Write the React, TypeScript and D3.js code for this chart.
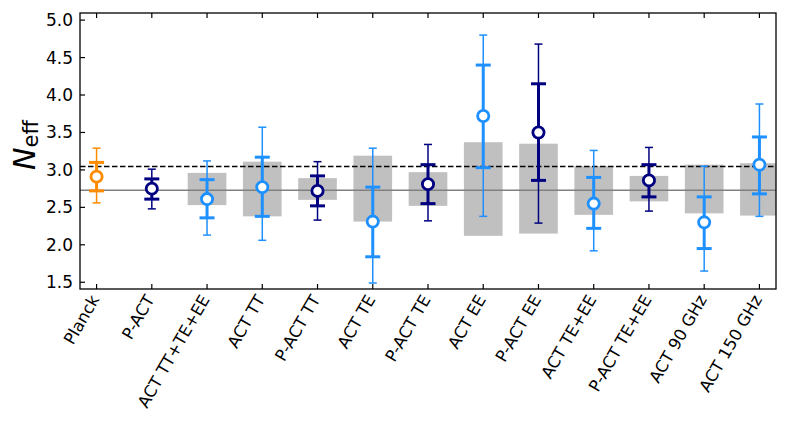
import React from "react";
import * as d3 from "d3";

const labels = [
  "Planck", "P-ACT", "ACT TT+TE+EE", "ACT TT", "P-ACT TT", "ACT TE", "P-ACT TE",
  "ACT EE", "P-ACT EE", "ACT TE+EE", "P-ACT TE+EE", "ACT 90 GHz", "ACT 150 GHz",
];
const groups = ["planck", "pact", "act", "act", "pact", "act", "pact", "act", "pact", "act", "pact", "act", "act"];
const central = [2.91, 2.75, 2.61, 2.77, 2.72, 2.31, 2.81, 3.72, 3.50, 2.55, 2.86, 2.30, 3.07];
const inner68Lo = [2.72, 2.61, 2.36, 2.38, 2.52, 1.84, 2.55, 3.03, 2.86, 2.22, 2.64, 1.95, 2.68];
const inner68Hi = [3.10, 2.88, 2.87, 3.17, 2.92, 2.77, 3.07, 4.40, 4.15, 2.90, 3.07, 2.64, 3.44];
const outer95Lo = [2.56, 2.48, 2.13, 2.06, 2.33, 1.49, 2.32, 2.38, 2.29, 1.92, 2.45, 1.65, 2.38];
const outer95Hi = [3.29, 3.01, 3.12, 3.57, 3.11, 3.29, 3.34, 4.80, 4.68, 3.26, 3.30, 3.05, 3.88];
const bandLo = [null, null, 2.53, 2.38, 2.60, 2.31, 2.52, 2.12, 2.15, 2.40, 2.58, 2.42, 2.39];
const bandHi = [null, null, 2.96, 3.11, 2.89, 3.19, 2.97, 3.37, 3.35, 3.05, 2.92, 3.07, 3.09];
const yTicks = [1.5, 2.0, 2.5, 3.0, 3.5, 4.0, 4.5, 5.0];
const standardNeff = 3.044;
const pactNeff = 2.73;

const groupColor: { [key: string]: string } = {
  planck: "#ff8c00",
  pact: "#000080",
  act: "#1e90ff",
};

const W = 789;
const H = 431;
const margin = { top: 13, right: 13, bottom: 142, left: 80 };

export default function App() {
  const x = d3
    .scaleLinear()
    .domain([-0.3, labels.length - 1 + 0.3])
    .range([margin.left, W - margin.right]);
  const y = d3
    .scaleLinear()
    .domain([1.41, 5.095])
    .range([H - margin.bottom, margin.top]);

  const x0 = margin.left;
  const x1 = W - margin.right;
  const y0 = margin.top;
  const y1 = H - margin.bottom;
  const font = "DejaVu Sans, sans-serif";
  const boxW = x(0.7) - x(0);

  return (
    <div style={{ position: "absolute", left: 0, top: 0 }}>
      <svg width={W} height={H} style={{ display: "block", background: "#fff" }}>
        <defs>
          <clipPath id="plot">
            <rect x={x0} y={y0} width={x1 - x0} height={y1 - y0} />
          </clipPath>
        </defs>

        <g clipPath="url(#plot)">
          {/* grey bands */}
          {labels.map((_, i) =>
            bandLo[i] == null ? null : (
              <rect
                key={"b" + i}
                x={x(i) - boxW / 2}
                y={y(bandHi[i] as number)}
                width={boxW}
                height={y(bandLo[i] as number) - y(bandHi[i] as number)}
                fill="#c0c0c0"
              />
            )
          )}

          {/* reference lines */}
          <line x1={x0} x2={x1} y1={y(pactNeff)} y2={y(pactNeff)} stroke="#808080" strokeWidth={1.5} />
          <line
            x1={x0}
            x2={x1}
            y1={y(standardNeff)}
            y2={y(standardNeff)}
            stroke="#000"
            strokeWidth={1.5}
            strokeDasharray="5.5 2.5"
          />

          {/* error bars */}
          {labels.map((_, i) => {
            const c = groupColor[groups[i]];
            const cx = x(i);
            return (
              <g key={"e" + i} stroke={c}>
                <line x1={cx} x2={cx} y1={y(outer95Lo[i])} y2={y(outer95Hi[i])} strokeWidth={1.5} />
                <line x1={cx - 4} x2={cx + 4} y1={y(outer95Lo[i])} y2={y(outer95Lo[i])} strokeWidth={1.5} />
                <line x1={cx - 4} x2={cx + 4} y1={y(outer95Hi[i])} y2={y(outer95Hi[i])} strokeWidth={1.5} />
                <line x1={cx} x2={cx} y1={y(inner68Lo[i])} y2={y(inner68Hi[i])} strokeWidth={3} />
                <line x1={cx - 7.5} x2={cx + 7.5} y1={y(inner68Lo[i])} y2={y(inner68Lo[i])} strokeWidth={3} />
                <line x1={cx - 7.5} x2={cx + 7.5} y1={y(inner68Hi[i])} y2={y(inner68Hi[i])} strokeWidth={3} />
                <circle cx={cx} cy={y(central[i])} r={5.6} fill="#fff" strokeWidth={2.8} />
              </g>
            );
          })}
        </g>

        {/* frame */}
        <rect x={x0} y={y0} width={x1 - x0} height={y1 - y0} fill="none" stroke="#000" strokeWidth={1.3} />

        {/* y ticks */}
        {yTicks.map((t) => (
          <g key={"yt" + t}>
            <line x1={x0} x2={x0 + 5} y1={y(t)} y2={y(t)} stroke="#000" strokeWidth={1.2} />
            <text
              x={x0 - 7}
              y={y(t)}
              textAnchor="end"
              dominantBaseline="central"
              fontFamily={font}
              fontSize={17}
            >
              {t.toFixed(1)}
            </text>
          </g>
        ))}

        {/* x ticks top and bottom */}
        {labels.map((lab, i) => (
          <g key={"xt" + i}>
            <line x1={x(i)} x2={x(i)} y1={y1} y2={y1 - 5} stroke="#000" strokeWidth={1.2} />
            <line x1={x(i)} x2={x(i)} y1={y0} y2={y0 + 5} stroke="#000" strokeWidth={1.2} />
            <text
              transform={`translate(${x(i) - 1.5},${y1 + 7.5}) rotate(-60)`}
              textAnchor="end"
              dominantBaseline="central"
              fontFamily={font}
              fontSize={16.5}
            >
              {lab}
            </text>
          </g>
        ))}

        {/* y label */}
        <text
          transform={`translate(35,145) rotate(-90)`}
          textAnchor="middle"
          fontFamily={font}
        >
          <tspan fontSize={30} fontStyle="italic">N</tspan>
          <tspan fontSize={21} dy={3}>eff</tspan>
        </text>
      </svg>
    </div>
  );
}
